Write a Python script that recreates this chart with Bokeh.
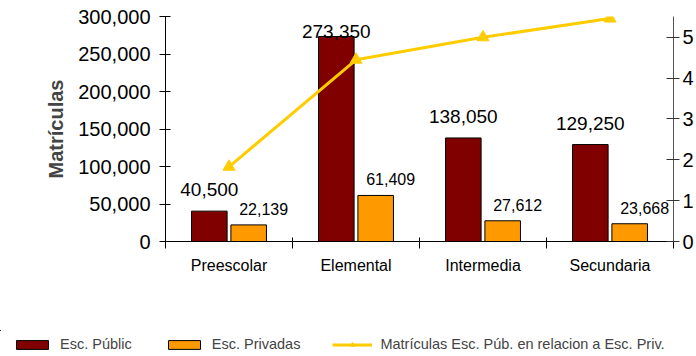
from bokeh.plotting import figure
from bokeh.models import (ColumnDataSource, Range1d, LinearAxis, FixedTicker,
                          NumeralTickFormatter, LabelSet, Legend, LegendItem)
from bokeh.core.properties import value
from bokeh.embed import file_html
from bokeh.resources import INLINE

categorias = ["Preescolar", "Elemental", "Intermedia", "Secundaria"]
publicas = [40500, 273350, 138050, 129250]
privadas = [22139, 61409, 27612, 23668]
razon = [round(a / b, 2) for a, b in zip(publicas, privadas)]
ticks_izq = [0, 50000, 100000, 150000, 200000, 250000, 300000]
ticks_der = [0, 1, 2, 3, 4, 5]
leyenda = ["Esc. Públic", "Esc. Privadas",
           "Matrículas Esc. Púb. en relacion a Esc. Priv."]

FONT = "Liberation Sans"
ROJO = "#800000"
NARANJA = "#FF9900"
AMARILLO = "#FFCC00"

W, H = 696, 330
H_LEG = 26
B_LEFT, B_RIGHT, B_TOP, B_BOTTOM = 165, 23, 16, 89
Y_MAX = 300000
FRAME_H = H - B_TOP - B_BOTTOM
PX = FRAME_H / Y_MAX

xs = list(range(len(categorias)))
dx = 0.155
OFF_PUB = 15
lab_pub_y = [min(v, Y_MAX - (21 + OFF_PUB) / PX) for v in publicas]

src = ColumnDataSource(dict(
    xc=xs,
    xp=[x - dx for x in xs],
    xq=[x + dx for x in xs],
    pub=publicas,
    priv=privadas,
    pub_y=lab_pub_y,
    razon=razon,
    pub_txt=[f"{v:,}" for v in publicas],
    priv_txt=[f"{v:,}" for v in privadas],
))

p = figure(width=W, height=H, output_backend="svg", toolbar_location=None,
           x_range=Range1d(-0.5, 3.5), y_range=Range1d(0, Y_MAX),
           min_border_left=B_LEFT, min_border_right=B_RIGHT,
           min_border_top=B_TOP, min_border_bottom=B_BOTTOM)
p.extra_y_ranges = {"razon": Range1d(0, 5.51)}
p.xgrid.visible = False
p.ygrid.visible = False
p.outline_line_color = None
p.background_fill_color = "white"
p.border_fill_color = "white"

p.vbar(x="xp", top="pub", width=0.28, bottom=0, source=src,
       fill_color=ROJO, line_color="black", line_width=1)
p.vbar(x="xq", top="priv", width=0.28, bottom=0, source=src,
       fill_color=NARANJA, line_color="black", line_width=1)
p.line(x="xc", y="razon", y_range_name="razon", source=src,
       line_color=AMARILLO, line_width=3)
p.scatter(x="xc", y="razon", y_range_name="razon", source=src,
          marker="triangle", size=12, fill_color=AMARILLO, line_color=AMARILLO)

p.add_layout(LabelSet(x="xp", y="pub_y", text="pub_txt", source=src,
                      text_align="center", text_baseline="alphabetic",
                      y_offset=OFF_PUB, text_font=value(FONT),
                      text_font_size="19px", text_color="black"))
p.add_layout(LabelSet(x="xq", y="priv", text="priv_txt", source=src,
                      text_align="center", text_baseline="alphabetic",
                      x_offset=15, y_offset=10, text_font=value(FONT),
                      text_font_size="16px", text_color="black"))

ya = p.yaxis[0]
ya.ticker = FixedTicker(ticks=ticks_izq)
ya.formatter = NumeralTickFormatter(format="0,0")
ya.axis_label = "Matrículas"
ya.axis_label_text_font = FONT
ya.axis_label_text_font_style = "bold"
ya.axis_label_text_font_size = "20px"
ya.axis_label_standoff = 8
ya.major_label_text_font = FONT
ya.major_label_text_font_size = "20px"
ya.major_label_text_color = "black"
ya.major_label_standoff = 9
ya.major_tick_in = 5
ya.major_tick_out = 6
ya.minor_tick_line_color = None
ya.axis_line_color = "black"
ya.major_tick_line_color = "black"

yr = LinearAxis(y_range_name="razon", ticker=FixedTicker(ticks=ticks_der))
yr.major_label_text_font = FONT
yr.major_label_text_font_size = "20px"
yr.major_label_text_color = "black"
yr.major_label_standoff = 3
yr.major_tick_in = 7
yr.major_tick_out = 6
yr.minor_tick_line_color = None
yr.axis_line_color = "#555555"
yr.major_tick_line_color = "#333333"
p.add_layout(yr, "right")

xa = p.xaxis[0]
xa.ticker = FixedTicker(ticks=xs, minor_ticks=[x - 0.5 for x in xs] + [xs[-1] + 0.5])
xa.major_label_overrides = {i: c for i, c in enumerate(categorias)}
xa.major_label_text_font = FONT
xa.major_label_text_font_size = "16px"
xa.major_label_text_color = "black"
xa.major_label_standoff = 8
xa.major_tick_in = 0
xa.major_tick_out = 0
xa.minor_tick_in = 4
xa.minor_tick_out = 7
xa.minor_tick_line_color = "black"
xa.axis_line_color = "black"

# legend strip under the chart; its renderers use the same data but lie
# outside the strip's ranges, so only the legend swatches are seen
pl = figure(width=W, height=H_LEG, output_backend="svg", toolbar_location=None,
            x_range=Range1d(10, 11), y_range=Range1d(-3, -2),
            x_axis_location=None, y_axis_location=None,
            min_border=0, min_border_left=0, min_border_right=0,
            min_border_top=0, min_border_bottom=0)
pl.xgrid.visible = False
pl.ygrid.visible = False
pl.outline_line_color = None
g1 = pl.vbar(x="xp", top="pub", bottom=0, width=0.28, source=src,
             fill_color=ROJO, line_color="black", line_width=1)
g2 = pl.vbar(x="xq", top="priv", bottom=0, width=0.28, source=src,
             fill_color=NARANJA, line_color="black", line_width=1)
g3 = pl.line(x="xc", y="razon", source=src, line_color=AMARILLO, line_width=3)
g4 = pl.scatter(x="xc", y="razon", source=src, marker="triangle", size=11,
                fill_color=AMARILLO, line_color=AMARILLO)

legend = Legend(items=[
    LegendItem(label=leyenda[0], renderers=[g1]),
    LegendItem(label=leyenda[1], renderers=[g2]),
    LegendItem(label=leyenda[2], renderers=[g3, g4]),
], orientation="horizontal", location=(12, 4))
legend.label_text_font = FONT
legend.label_text_font_size = "14.5px"
legend.glyph_width = 40
legend.glyph_height = 11
legend.label_standoff = 8
legend.spacing = 32
legend.padding = 0
legend.margin = 0
legend.border_line_color = None
legend.background_fill_alpha = 0
pl.add_layout(legend, "center")

open("out.html", "w").write(file_html([p, pl], INLINE))
